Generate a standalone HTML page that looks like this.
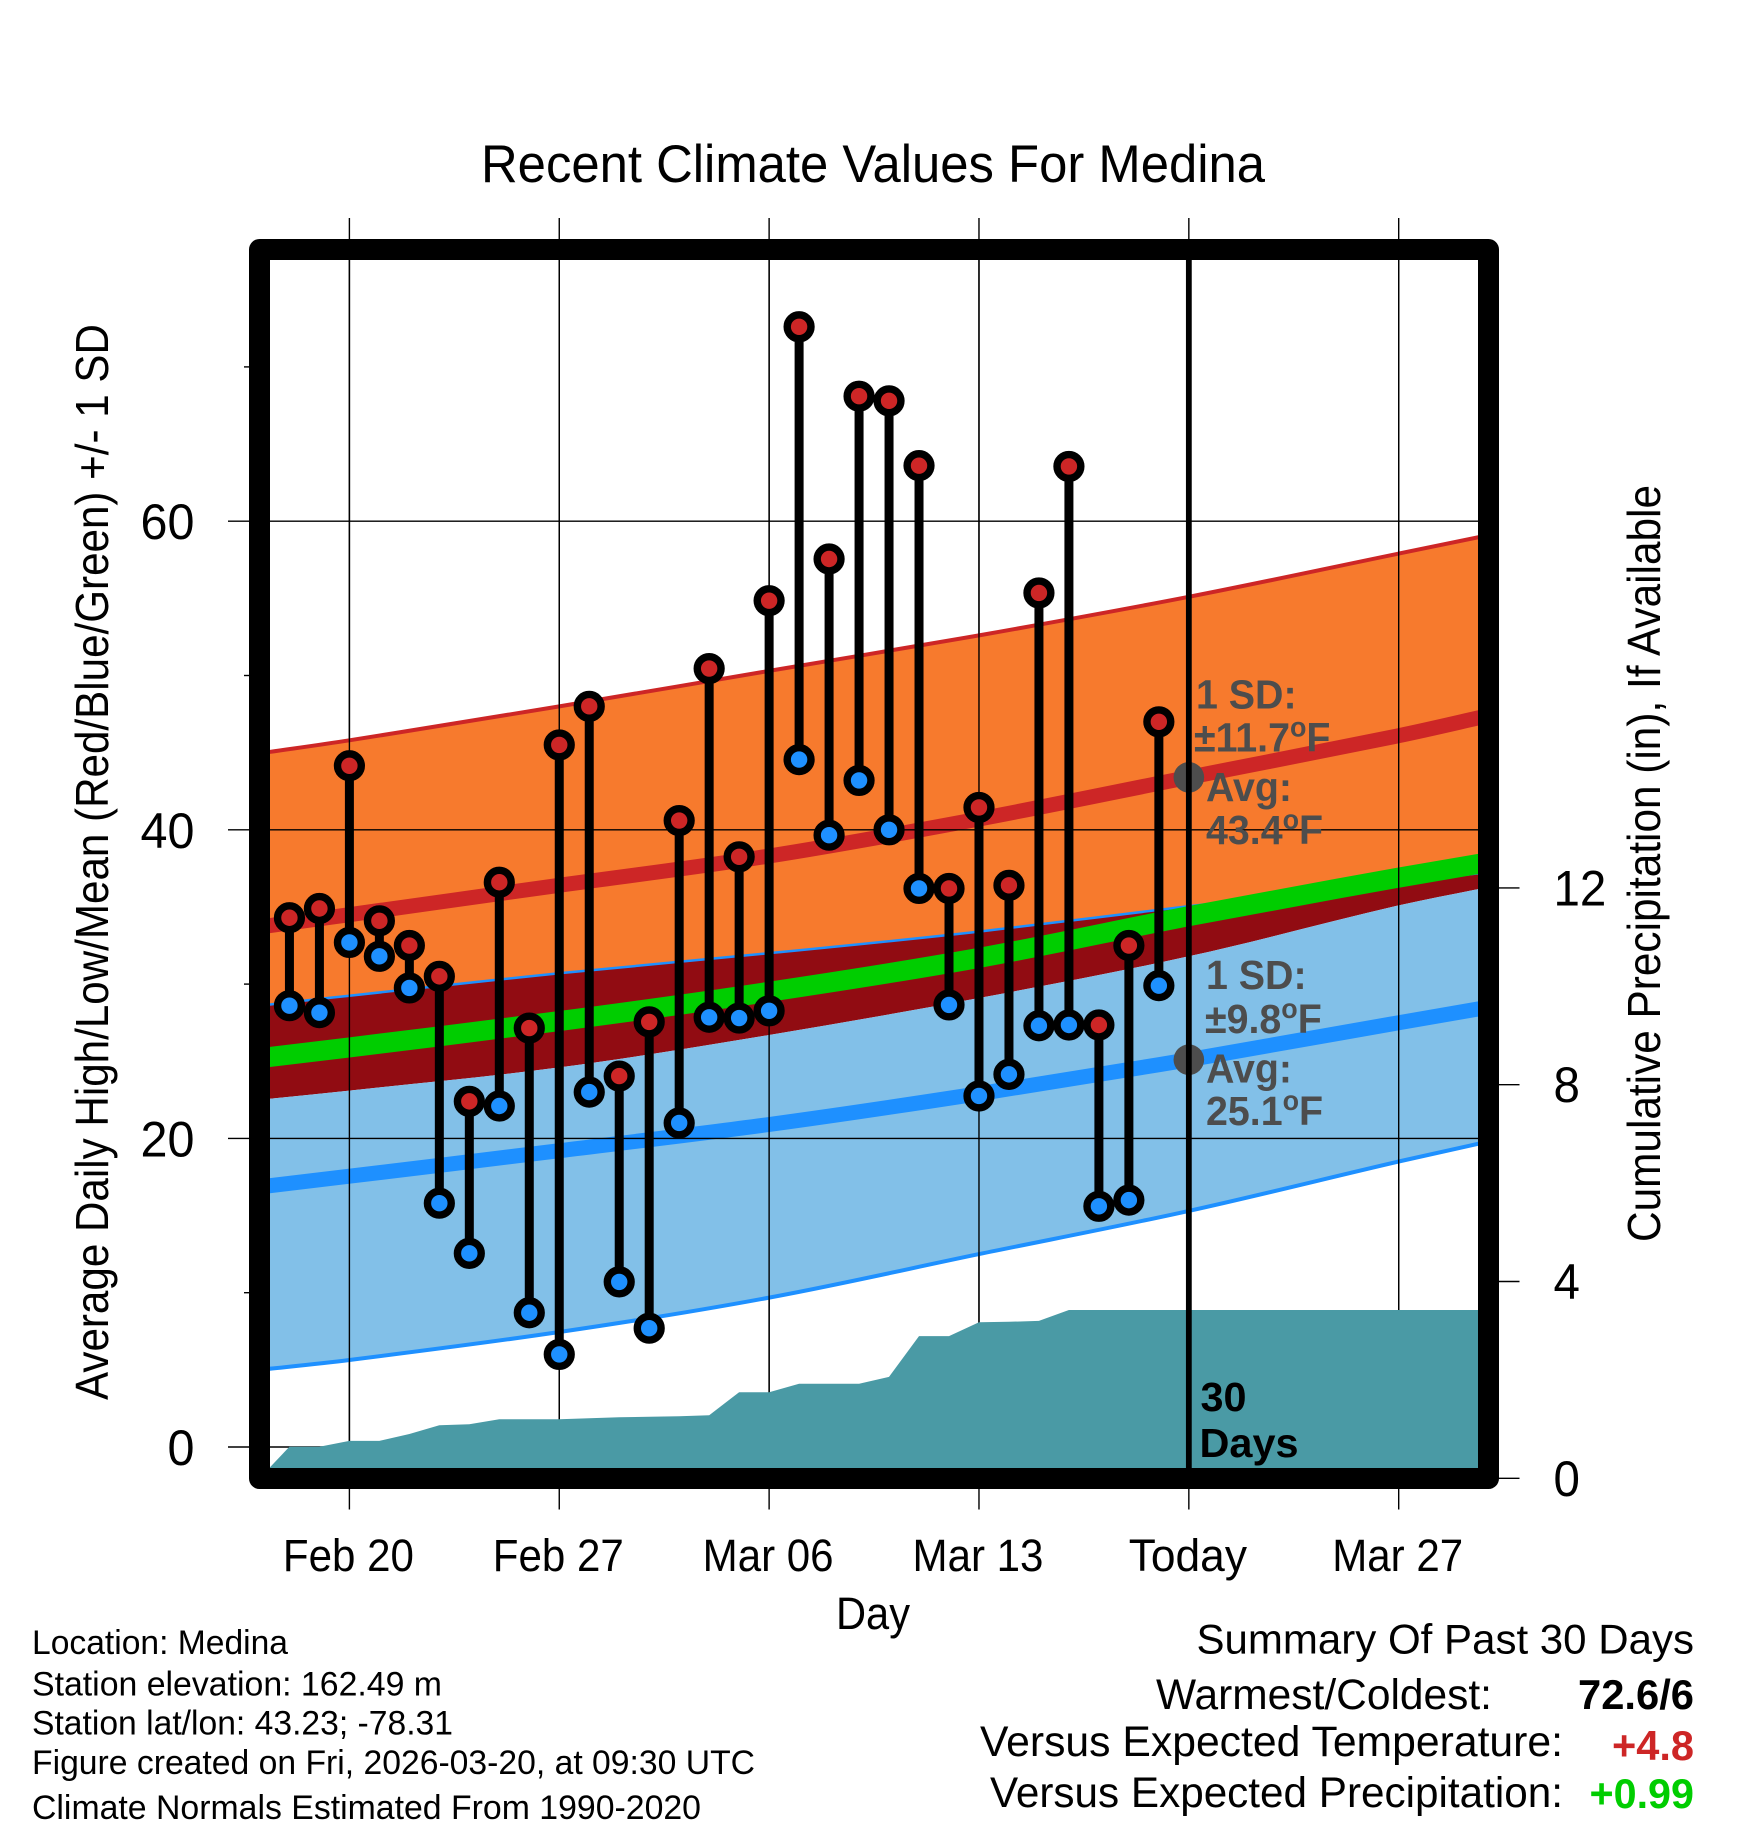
<!DOCTYPE html>
<html lang="en">
<head>
<meta charset="utf-8">
<title>Recent Climate Values For Medina</title>
<style>
html,body{margin:0;padding:0;background:#fff;}
svg{display:block;}
text{font-family:"Liberation Sans",sans-serif;fill:#000;}
.b{font-weight:bold;}
.g{font-weight:bold;fill:#4d4d4d;font-size:41px;}
</style>
</head>
<body>
<svg id="chart" xmlns="http://www.w3.org/2000/svg" width="1748" height="1828" viewBox="0 0 1748 1828">
  <defs>
    <clipPath id="plot-clip"><rect x="270" y="260" width="1208" height="1208"/></clipPath>
  </defs>
  <rect x="0" y="0" width="1748" height="1828" fill="#fff"/>
  <text x="481" y="182" font-size="53" textLength="784" lengthAdjust="spacingAndGlyphs">Recent Climate Values For Medina</text>
  <g id="axes-under"></g>
  <g id="plot" clip-path="url(#plot-clip)"></g>
  <rect x="259.5" y="249.5" width="1229" height="1229" fill="none" stroke="#000" stroke-width="21" stroke-linejoin="round"/>
  <g id="labels"></g>

  <text x="836" y="1629" font-size="45" textLength="74" lengthAdjust="spacingAndGlyphs">Day</text>
  <text transform="translate(108,1400) rotate(-90)" font-size="46" textLength="1076" lengthAdjust="spacingAndGlyphs">Average Daily High/Low/Mean (Red/Blue/Green) +/- 1 SD</text>
  <text transform="translate(1660,1242) rotate(-90)" font-size="46" textLength="757" lengthAdjust="spacingAndGlyphs">Cumulative Precipitation (in), If Available</text>

  <g>
    <text class="g" transform="translate(1196,708.5) scale(.96,1)">1 SD:</text>
    <text class="g" transform="translate(1194,751.5) scale(.96,1)">±11.7<tspan font-size="28" dy="-15">o</tspan><tspan dy="15">F</tspan></text>
    <text class="g" transform="translate(1206,801) scale(.96,1)">Avg:</text>
    <text class="g" transform="translate(1206,844) scale(.96,1)">43.4<tspan font-size="28" dy="-15">o</tspan><tspan dy="15">F</tspan></text>
  </g>
  <g>
    <text class="g" transform="translate(1206,989) scale(.96,1)">1 SD:</text>
    <text class="g" transform="translate(1205,1033) scale(.96,1)">±9.8<tspan font-size="28" dy="-15">o</tspan><tspan dy="15">F</tspan></text>
    <text class="g" transform="translate(1206,1082.5) scale(.96,1)">Avg:</text>
    <text class="g" transform="translate(1206,1125) scale(.96,1)">25.1<tspan font-size="28" dy="-15">o</tspan><tspan dy="15">F</tspan></text>
  </g>
  <text class="b" x="1200.5" y="1411" font-size="41" textLength="46" lengthAdjust="spacingAndGlyphs">30</text>
  <text class="b" x="1199.5" y="1457" font-size="41" textLength="99" lengthAdjust="spacingAndGlyphs">Days</text>

  <g>
    <text x="32" y="1654" font-size="34" textLength="256" lengthAdjust="spacingAndGlyphs">Location: Medina</text>
    <text x="32" y="1695.5" font-size="34" textLength="410" lengthAdjust="spacingAndGlyphs">Station elevation: 162.49 m</text>
    <text x="32" y="1734.5" font-size="34" textLength="421" lengthAdjust="spacingAndGlyphs">Station lat/lon: 43.23; -78.31</text>
    <text x="32" y="1774" font-size="34" textLength="723" lengthAdjust="spacingAndGlyphs">Figure created on Fri, 2026-03-20, at 09:30 UTC</text>
    <text x="32" y="1819" font-size="34" textLength="669" lengthAdjust="spacingAndGlyphs">Climate Normals Estimated From 1990-2020</text>
  </g>
  <g>
    <text x="1196.5" y="1653.5" font-size="42" textLength="497.5" lengthAdjust="spacingAndGlyphs">Summary Of Past 30 Days</text>
    <text x="1156" y="1709" font-size="43" textLength="336" lengthAdjust="spacingAndGlyphs">Warmest/Coldest:</text>
    <text class="b" x="1578" y="1709" font-size="42" textLength="116" lengthAdjust="spacingAndGlyphs">72.6/6</text>
    <text x="980" y="1756" font-size="43" textLength="583" lengthAdjust="spacingAndGlyphs">Versus Expected Temperature:</text>
    <text class="b" x="1612" y="1760" font-size="42" textLength="82" lengthAdjust="spacingAndGlyphs" style="fill:#cd2626">+4.8</text>
    <text x="990" y="1807" font-size="43" textLength="573" lengthAdjust="spacingAndGlyphs">Versus Expected Precipitation:</text>
    <text class="b" x="1589.5" y="1808" font-size="42" textLength="104.5" lengthAdjust="spacingAndGlyphs" style="fill:#00cd00">+0.99</text>
  </g>
</svg>
<script>
// Observed highs and lows, one per day starting Feb 18
const observedHigh = [34.3,34.9,44.15,34.1,32.5,30.5,22.4,36.6,27.15,45.5,48.0,24.04,27.55,40.6,50.45,38.25,54.85,72.6,57.55,68.1,67.8,63.6,36.2,41.45,36.4,55.35,63.55,27.35,32.5,47.0];
const observedLow = [28.6,28.15,32.7,31.8,29.75,15.8,12.55,22.1,8.7,6.0,23.0,10.7,7.7,21.0,27.85,27.8,28.27,44.55,39.65,43.2,40.0,36.2,28.65,22.75,24.15,27.3,27.35,15.6,16.0,29.9];
// First observed day, in days since Feb 20
const observedStartDay = -2;

// Climate normals sampled on these days (days since Feb 20)
const normalDays = [-3,0,7,14,21,28,35,38];
const highUpper = [44.95,45.8,48.0,50.3,52.6,55.1,57.9,59.1];
const highMean = [33.7,34.5,36.4,38.3,40.7,43.4,46.1,47.4];
const lowUpper = [28.6,29.25,30.7,32.0,33.4,35.05,36.6,37.25];
const overallMean = [25.2,25.9,27.6,29.5,31.7,34.4,36.9,37.9];
const highLower = [22.5,23.1,24.6,26.7,29.1,31.8,35.1,36.3];
const lowMean = [16.85,17.55,19.2,20.9,22.9,25.1,27.5,28.5];
const lowLower = [5.0,5.64,7.45,9.68,12.5,15.3,18.5,19.8];

// Cumulative precipitation (inches)
const precipDays = [-3,-2,-1,0,1,2,3,4,5,6,7,8,9,10,11,12,13,14,15,16,17,18,19,20,21,22,23,24,38];
const precipValues = [0,0.64,0.64,0.76,0.76,0.9,1.08,1.1,1.2,1.2,1.2,1.22,1.24,1.25,1.26,1.28,1.75,1.75,1.92,1.92,1.92,2.06,2.89,2.89,3.17,3.18,3.2,3.42,3.42];

// Axes
const xTickDays = [0,7,14,21,28,35];
const xTickLabels = ['Feb 20','Feb 27','Mar 06','Mar 13','Today','Mar 27'];
const yMajorTicks = [0,20,40,60];
const yMinorTicks = [10,30,50,70];
const yTickLabels = ['0','20','40','60'];
const precipTicks = [0,4,8,12];
const precipTickLabels = ['0','4','8','12'];
const todayDay = 28;
const todayHigh = 43.4;
const todayLow = 25.1;

const NS = 'http://www.w3.org/2000/svg';
function xScale(d){ return 349.4 + 29.98 * d; }
function yScale(t){ return 1447 - 15.43 * t; }
function pScale(p){ return 1478.3 - 49.2 * p; }

const plot = document.getElementById('plot');
const axesUnder = document.getElementById('axes-under');
const labels = document.getElementById('labels');

function make(tag, parent){
  const el = document.createElementNS(NS, tag);
  parent.appendChild(el);
  return el;
}
function pts(days, vals, scale){
  return days.map((d,i)=>xScale(d).toFixed(1)+','+scale(vals[i]).toFixed(1));
}
// Smooth Hermite path through the sampled values, in day order or reversed
function smoothSegments(vals, reverse){
  const n = normalDays.length;
  const xs = normalDays.map(xScale);
  const ys = vals.map(yScale);
  const m = xs.map(function(x,i){
    const a = Math.max(i-1,0), b = Math.min(i+1,n-1);
    return (ys[b]-ys[a])/(xs[b]-xs[a]);
  });
  let s = '';
  if(!reverse){
    for(let i=0;i<n-1;i++){
      const dx=(xs[i+1]-xs[i])/3;
      s+=' C'+(xs[i]+dx).toFixed(1)+' '+(ys[i]+m[i]*dx).toFixed(1)+' '+(xs[i+1]-dx).toFixed(1)+' '+(ys[i+1]-m[i+1]*dx).toFixed(1)+' '+xs[i+1].toFixed(1)+' '+ys[i+1].toFixed(1);
    }
  } else {
    for(let i=n-1;i>0;i--){
      const dx=(xs[i]-xs[i-1])/3;
      s+=' C'+(xs[i]-dx).toFixed(1)+' '+(ys[i]-m[i]*dx).toFixed(1)+' '+(xs[i-1]+dx).toFixed(1)+' '+(ys[i-1]+m[i-1]*dx).toFixed(1)+' '+xs[i-1].toFixed(1)+' '+ys[i-1].toFixed(1);
    }
  }
  return s;
}
function drawBand(upper, lower, color, name){
  const el = make('path', plot);
  
  
  const n = normalDays.length - 1;
  const d = 'M'+xScale(normalDays[0]).toFixed(1)+' '+yScale(upper[0]).toFixed(1)+smoothSegments(upper,false)+
    ' L'+xScale(normalDays[n]).toFixed(1)+' '+yScale(lower[n]).toFixed(1)+smoothSegments(lower,true)+' Z';
  el.setAttribute('d', d);
  el.setAttribute('fill', color);
}
function drawCurve(vals, color, width, name){
  const el = make('path', plot);
  
  
  el.setAttribute('d', 'M'+xScale(normalDays[0]).toFixed(1)+' '+yScale(vals[0]).toFixed(1)+smoothSegments(vals,false));
  el.setAttribute('fill', 'none');
  el.setAttribute('stroke', color);
  el.setAttribute('stroke-width', width);
}
function drawSeg(parent, x1, y1, x2, y2, w, name){
  const el = make('line', parent);
  
  
  el.setAttribute('x1', x1);
  el.setAttribute('y1', y1);
  el.setAttribute('x2', x2);
  el.setAttribute('y2', y2);
  el.setAttribute('stroke', '#000');
  el.setAttribute('stroke-width', w);
}
function drawLabel(str, x, y, anchor, size, sx, name){
  const el = make('text', labels);
  
  
  el.setAttribute('transform', 'translate('+x+','+y+') scale('+sx+',1)');
  el.setAttribute('text-anchor', anchor);
  el.setAttribute('font-size', size);
  el.textContent = str;
}

// Bands
drawBand(highUpper, lowUpper, '#f77a2d', 'high-sd-band');
drawBand(lowUpper, highLower, '#910c12', 'overlap-band');
drawBand(highLower, lowLower, '#82c0e8', 'low-sd-band');
drawCurve(highUpper, '#cd2626', 4, 'high-upper-edge');
drawCurve(lowUpper, '#1e90ff', 2.5, 'low-upper-edge');
drawCurve(lowLower, '#1e90ff', 4, 'low-lower-edge');
drawCurve(highMean, '#cd2626', 15, 'high-mean-line');
drawCurve(lowMean, '#1e90ff', 15, 'low-mean-line');
drawCurve(overallMean, '#00cd00', 20, 'overall-mean-line');

// Grid and ticks
xTickDays.forEach(function(d){
  drawSeg(plot, xScale(d), 260, xScale(d), 1468, 1.4, 'x-grid-line');
  drawSeg(axesUnder, xScale(d), 218, xScale(d), 1509.5, 1.4, 'x-tick');
});
xTickLabels.forEach(function(s,i){
  drawLabel(s, xScale(xTickDays[i]) - 1, 1571, 'middle', 45, s === 'Today' ? 0.985 : 0.935, 'x-tick-label');
});
yMajorTicks.forEach(function(t,i){
  drawSeg(plot, 270, yScale(t), 1478, yScale(t), 1.4, 'y-grid-line');
  drawSeg(axesUnder, 228, yScale(t), 260, yScale(t), 1.4, 'y-tick');
  drawLabel(yTickLabels[i], 194.5, yScale(t)+18, 'end', 50, 0.97, 'y-tick-label');
});
yMinorTicks.forEach(function(t){
  drawSeg(axesUnder, 244, yScale(t), 260, yScale(t), 1.4, 'y-minor-tick');
});
precipTicks.forEach(function(p,i){
  drawSeg(axesUnder, 1490, pScale(p), 1519.5, pScale(p), 1.4, 'precip-tick');
  drawLabel(precipTickLabels[i], 1553.5, pScale(p)+17.5, 'start', 50, 0.95, 'precip-tick-label');
});

// Precipitation area
const precipPoints = pts(precipDays, precipValues, pScale);
precipPoints.push(xScale(precipDays[precipDays.length-1]).toFixed(1)+','+pScale(0).toFixed(1));
precipPoints.push(xScale(precipDays[0]).toFixed(1)+','+pScale(0).toFixed(1));
const precipArea = make('polygon', plot);


precipArea.setAttribute('points', precipPoints.join(' '));
precipArea.setAttribute('fill', '#4a9aa5');

// Today dots and line
[todayHigh, todayLow].forEach(function(t){
  const dot = make('circle', plot);
  
  
  dot.setAttribute('cx', xScale(todayDay));
  dot.setAttribute('cy', yScale(t));
  dot.setAttribute('r', 15.3);
  dot.setAttribute('fill', '#4d4d4d');
});
drawSeg(plot, xScale(todayDay), 260, xScale(todayDay), 1468, 5.8, 'today-line');

// Observed values
observedHigh.forEach(function(h,i){
  const d = observedStartDay + i;
  const x = xScale(d);
  drawSeg(plot, x, yScale(h), x, yScale(observedLow[i]), 9, 'daily-range-bar');
  const low = make('circle', plot);
  
  
  low.setAttribute('cx', x);
  low.setAttribute('cy', yScale(observedLow[i]));
  low.setAttribute('r', 11.9);
  low.setAttribute('fill', '#1e90ff');
  low.setAttribute('stroke', '#000');
  low.setAttribute('stroke-width', 7.4);
  const high = make('circle', plot);
  
  
  high.setAttribute('cx', x);
  high.setAttribute('cy', yScale(h));
  high.setAttribute('r', 11.9);
  high.setAttribute('fill', '#cd2626');
  high.setAttribute('stroke', '#000');
  high.setAttribute('stroke-width', 7.4);
});
</script>
</body>
</html>
